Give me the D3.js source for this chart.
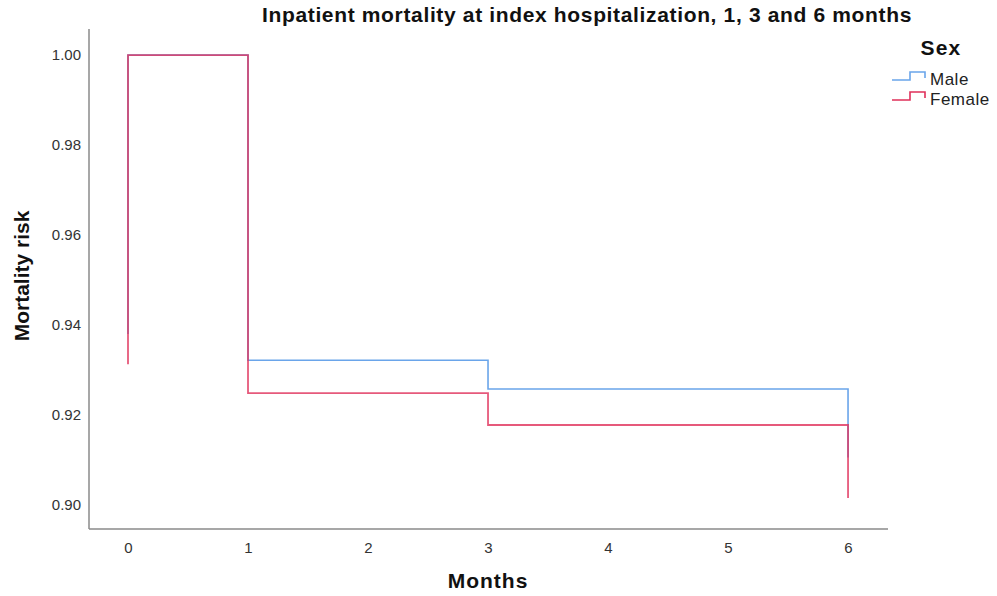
<!DOCTYPE html>
<html>
<head>
<meta charset="utf-8">
<script src="https://cdn.jsdelivr.net/npm/d3@7"></script>
<style>
  body { margin: 0; background: #fff; }
  svg { font-family: "Liberation Sans", Arial, sans-serif; }
</style>
</head>
<body>
<svg id="chart" width="997" height="596"></svg>
<script>
// ---- data ----
const xTicks = [0, 1, 2, 3, 4, 5, 6];
const yTicks = [0.90, 0.92, 0.94, 0.96, 0.98, 1.00];
const seriesNames = ["Male", "Female"];
const seriesColors = ["#6aa5ea", "#e0305a"];
// step points: [month, mortality risk]
const maleSteps = [[0, 0.938], [0, 1.000], [1, 1.000], [1, 0.9322], [3, 0.9322], [3, 0.9258], [6, 0.9258], [6, 0.9106]];
const femaleSteps = [[0, 0.9313], [0, 1.000], [1, 1.000], [1, 0.9249], [3, 0.9249], [3, 0.9178], [6, 0.9178], [6, 0.9016]];

const svg = d3.select("#chart");
const x = d3.scaleLinear().domain([-0.325, 6.333]).range([89, 888]);
const y = d3.scaleLinear().domain([0.8947, 1.00556]).range([529, 30]);

// axes lines
const axisColor = "#8a8a8a";
svg.append("line").attr("x1", 89).attr("x2", 89).attr("y1", 29).attr("y2", 529)
  .attr("stroke", axisColor).attr("stroke-width", 1.5);
svg.append("line").attr("x1", 89).attr("x2", 888).attr("y1", 529).attr("y2", 529)
  .attr("stroke", axisColor).attr("stroke-width", 1.5);

// tick labels via d3 axes (no tick marks)
const xAxis = d3.axisBottom(x).tickValues(xTicks).tickFormat(d3.format("d")).tickSize(0).tickPadding(13);
const gx = svg.append("g").attr("transform", "translate(0,529)").call(xAxis);
gx.select(".domain").remove();
gx.selectAll("text").attr("font-size", 15).attr("fill", "#333").attr("font-family", "Liberation Sans, Arial, sans-serif");

const yAxis = d3.axisLeft(y).tickValues(yTicks).tickFormat(d3.format(".2f")).tickSize(0).tickPadding(8);
const gy = svg.append("g").attr("transform", "translate(89,0)").call(yAxis);
gy.select(".domain").remove();
gy.selectAll("text").attr("font-size", 15).attr("fill", "#333").attr("font-family", "Liberation Sans, Arial, sans-serif");

// lines
const line = d3.line().x(d => x(d[0])).y(d => y(d[1]));
svg.append("path").datum(maleSteps).attr("d", line).attr("fill", "none")
  .attr("stroke", seriesColors[0]).attr("stroke-width", 1.6);
svg.append("path").datum(femaleSteps).attr("d", line).attr("fill", "none")
  .attr("stroke", seriesColors[1]).attr("stroke-width", 1.8).attr("stroke-opacity", 0.8);

// title
svg.append("text").attr("x", 587).attr("y", 22).attr("text-anchor", "middle")
  .attr("font-size", 21).attr("font-weight", "bold").attr("fill", "#111").attr("letter-spacing", 0.65)
  .text("Inpatient mortality at index hospitalization, 1, 3 and 6 months");

// axis titles
svg.append("text").attr("x", 488).attr("y", 588).attr("text-anchor", "middle")
  .attr("font-size", 21).attr("font-weight", "bold").attr("fill", "#111").attr("letter-spacing", 1)
  .text("Months");
svg.append("text").attr("transform", "translate(29,276) rotate(-90)").attr("text-anchor", "middle")
  .attr("font-size", 21).attr("font-weight", "bold").attr("fill", "#111").text("Mortality risk");

// legend
svg.append("text").attr("x", 941).attr("y", 55).attr("text-anchor", "middle")
  .attr("font-size", 21).attr("font-weight", "bold").attr("fill", "#111").attr("letter-spacing", 1.2).text("Sex");
seriesNames.forEach((name, i) => {
  const base = 80 + i * 20;
  const g = svg.append("g");
  g.append("path")
    .attr("d", `M892,${base} H910 V${base - 8} H925 V${base - 2}`)
    .attr("fill", "none").attr("stroke", seriesColors[i]).attr("stroke-width", 1.6);
  g.append("text").attr("x", 930).attr("y", base + 5).attr("font-size", 17).attr("fill", "#222")
    .attr("letter-spacing", 0.5).text(name);
});
</script>
</body>
</html>
